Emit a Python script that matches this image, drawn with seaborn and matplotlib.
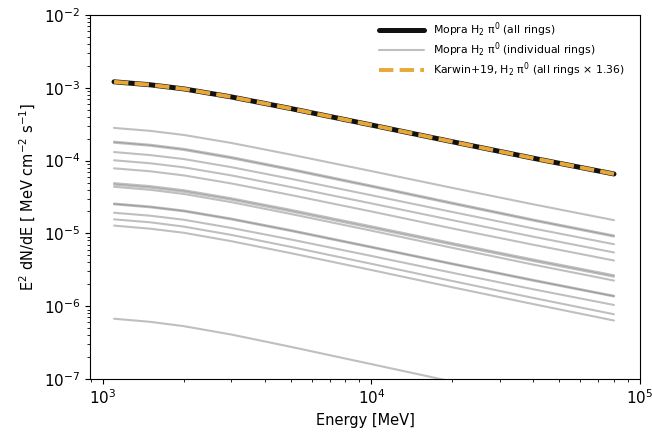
import matplotlib
matplotlib.use("Agg")
import matplotlib.pyplot as plt
import seaborn as sns
import numpy as np

energy = [1100, 1500, 2000, 3000, 5000, 10000, 20000, 40000, 80000]

mopra_all = [1.208e-3, 1.099e-3, 9.66e-4, 7.50e-4, 5.19e-4, 3.08e-4, 1.815e-4, 1.079e-4, 6.55e-5]
karwin = [1.208e-3, 1.099e-3, 9.66e-4, 7.50e-4, 5.19e-4, 3.08e-4, 1.815e-4, 1.079e-4, 6.55e-5]

ring_01 = [2.81e-4, 2.56e-4, 2.25e-4, 1.75e-4, 1.21e-4, 7.17e-5, 4.22e-5, 2.51e-5, 1.52e-5]
ring_02 = [1.82e-4, 1.65e-4, 1.45e-4, 1.12e-4, 7.70e-5, 4.53e-5, 2.64e-5, 1.55e-5, 9.35e-6]
ring_03 = [1.76e-4, 1.60e-4, 1.40e-4, 1.08e-4, 7.44e-5, 4.38e-5, 2.55e-5, 1.50e-5, 9.05e-6]
ring_04 = [1.31e-4, 1.19e-4, 1.05e-4, 8.14e-5, 5.63e-5, 3.34e-5, 1.97e-5, 1.17e-5, 7.10e-6]
ring_05 = [1.01e-4, 9.19e-5, 8.08e-5, 6.27e-5, 4.34e-5, 2.58e-5, 1.52e-5, 9.02e-6, 5.47e-6]
ring_06 = [7.83e-5, 7.13e-5, 6.26e-5, 4.86e-5, 3.37e-5, 2.00e-5, 1.17e-5, 6.99e-6, 4.24e-6]
ring_07 = [4.90e-5, 4.46e-5, 3.92e-5, 3.04e-5, 2.11e-5, 1.25e-5, 7.35e-6, 4.38e-6, 2.66e-6]
ring_08 = [4.68e-5, 4.26e-5, 3.74e-5, 2.91e-5, 2.01e-5, 1.19e-5, 7.02e-6, 4.18e-6, 2.54e-6]
ring_09 = [4.37e-5, 3.97e-5, 3.48e-5, 2.69e-5, 1.85e-5, 1.09e-5, 6.34e-6, 3.73e-6, 2.25e-6]
ring_10 = [2.57e-5, 2.34e-5, 2.06e-5, 1.60e-5, 1.11e-5, 6.55e-6, 3.86e-6, 2.30e-6, 1.39e-6]
ring_11 = [2.51e-5, 2.28e-5, 2.01e-5, 1.56e-5, 1.08e-5, 6.40e-6, 3.77e-6, 2.24e-6, 1.36e-6]
ring_12 = [1.92e-5, 1.75e-5, 1.54e-5, 1.19e-5, 8.26e-6, 4.90e-6, 2.88e-6, 1.71e-6, 1.04e-6]
ring_13 = [1.56e-5, 1.42e-5, 1.24e-5, 9.55e-6, 6.54e-6, 3.82e-6, 2.22e-6, 1.30e-6, 7.75e-7]
ring_14 = [1.28e-5, 1.16e-5, 1.02e-5, 7.83e-6, 5.36e-6, 3.14e-6, 1.82e-6, 1.07e-6, 6.36e-7]
ring_15 = [6.73e-7, 6.10e-7, 5.32e-7, 4.09e-7, 2.77e-7, 1.60e-7, 9.22e-8, 5.34e-8, 3.16e-8]

rings = [ring_01, ring_02, ring_03, ring_04, ring_05, ring_06, ring_07, ring_08,
         ring_09, ring_10, ring_11, ring_12, ring_13, ring_14, ring_15]

labels = ["Mopra H$_2$ π$^0$ (all rings)",
          "Mopra H$_2$ π$^0$ (individual rings)",
          "Karwin+19, H$_2$ π$^0$ (all rings × 1.36)"]

sns.set_style("ticks", {"axes.edgecolor": "black", "xtick.color": "black",
                        "ytick.color": "black", "text.color": "black",
                        "axes.labelcolor": "black"})
plt.rcParams['font.family'] = ['DejaVu Sans']

fig = plt.figure(figsize=(6.52, 4.33), dpi=100)
ax = fig.add_axes([0.138, 0.1247, 0.8436, 0.8407])

for i, r in enumerate(rings):
    sns.lineplot(x=energy, y=r, ax=ax, color="gray", alpha=0.5, lw=1.5,
                 label=labels[1] if i == 0 else None)
sns.lineplot(x=energy, y=mopra_all, ax=ax, color="#111111", lw=3.6, label=labels[0])
sns.lineplot(x=energy, y=karwin, ax=ax, color="#E8A838", lw=2.8, ls="--", label=labels[2])

ax.set_xscale("log")
ax.set_yscale("log")
ax.set_xlim(895, 1e5)
ax.set_ylim(1e-7, 1e-2)
ax.set_xlabel("Energy [MeV]", fontsize=10.5)
ax.set_ylabel("E$^2$ dN/dE [ MeV cm$^{-2}$ s$^{-1}$]", fontsize=10.5)
ax.tick_params(axis="both", which="major", labelsize=11)

handles, labs = ax.get_legend_handles_labels()
order = [labs.index(l) for l in labels]
ax.legend([handles[i] for i in order], [labs[i] for i in order],
          loc="upper right", frameon=False, fontsize=7.8,
          bbox_to_anchor=(0.99, 1.012), handlelength=4.2, labelspacing=0.15)

fig.savefig("out.png", dpi=100)
